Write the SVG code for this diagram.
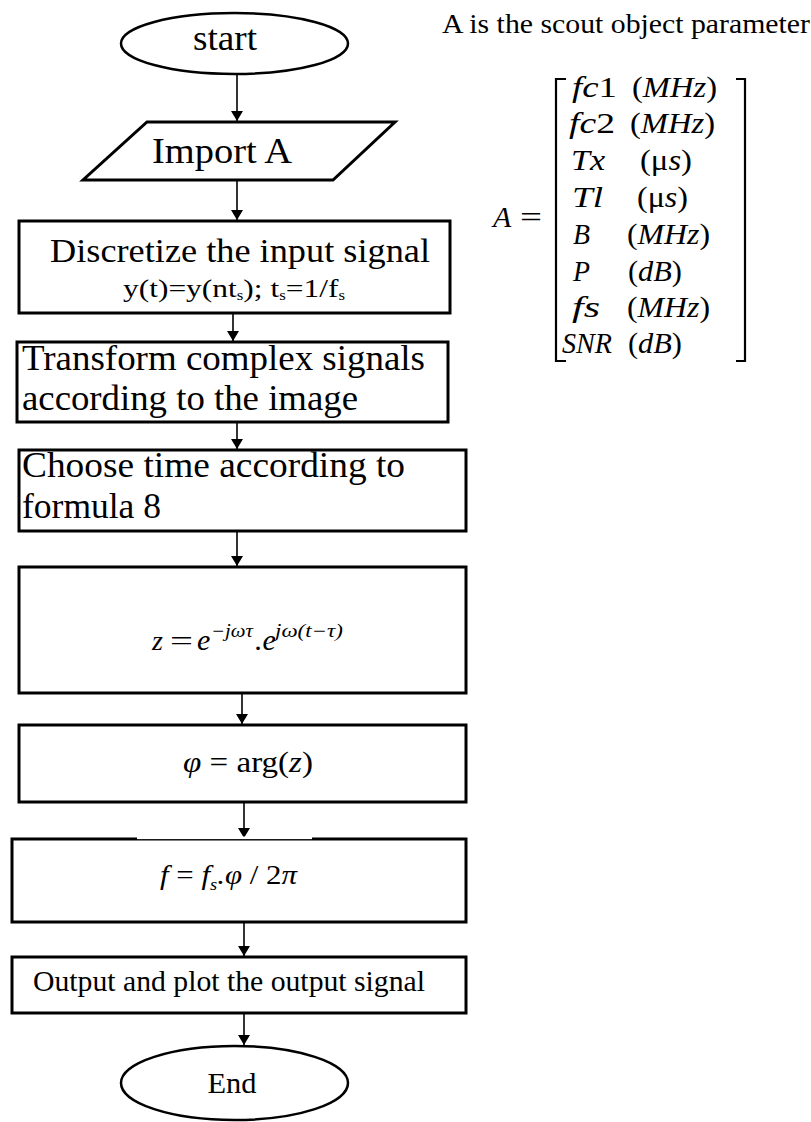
<svg xmlns="http://www.w3.org/2000/svg" width="811" height="1122" viewBox="0 0 811 1122">
<defs>
<marker id="ah" viewBox="0 0 10 12" refX="10" refY="6" markerWidth="10" markerHeight="12" markerUnits="userSpaceOnUse" orient="auto">
<path d="M0,0 L10,6 L0,12 Z" fill="#000"/>
</marker>
<style>
.box{fill:#fff;stroke:#000;stroke-width:3}
.term{fill:#fff;stroke:#000;stroke-width:2.5}
.t{font-family:"Liberation Serif","Times New Roman",serif;fill:#000}
.m{font-family:"Liberation Serif","Times New Roman",serif;font-style:italic;fill:#000}
.up{font-style:normal}
.conn{stroke:#000;stroke-width:1.6;fill:none;marker-end:url(#ah)}
.br{stroke:#000;stroke-width:2.2;fill:none}
</style>
</defs>
<rect width="811" height="1122" fill="#fff"/>

<g id="connectors">
<line class="conn" x1="237" y1="75" x2="237" y2="121"/>
<line class="conn" x1="237" y1="181" x2="237" y2="220"/>
<line class="conn" x1="233" y1="314" x2="233" y2="341"/>
<line class="conn" x1="237" y1="423" x2="237" y2="449"/>
<line class="conn" x1="237" y1="532" x2="237" y2="566"/>
<line class="conn" x1="242" y1="694" x2="242" y2="724"/>
<line class="conn" x1="244" y1="803" x2="244" y2="838"/>
<line class="conn" x1="244" y1="923" x2="244" y2="956"/>
<line class="conn" x1="244" y1="1014" x2="244" y2="1045"/>
</g>

<g id="start">
<ellipse class="term" cx="234.5" cy="43.5" rx="113.5" ry="30.5"/>
<text class="t" x="225" y="50" font-size="36" text-anchor="middle" textLength="64" lengthAdjust="spacingAndGlyphs">start</text>
</g>

<g id="import">
<polygon class="box" points="147,122 395,122 333,180 83,180"/>
<text class="t" x="222" y="163" font-size="36" text-anchor="middle" textLength="140" lengthAdjust="spacingAndGlyphs">Import A</text>
</g>

<g id="discretize">
<rect class="box" x="19" y="221" width="431" height="92"/>
<text class="t" x="240" y="262" font-size="34" text-anchor="middle" textLength="380" lengthAdjust="spacingAndGlyphs">Discretize the input signal</text>
<text class="t" x="123" y="297" font-size="26" textLength="222" lengthAdjust="spacingAndGlyphs">y(t)=y(nt<tspan font-size="14" dy="3">s</tspan><tspan dy="-3">); t</tspan><tspan font-size="14" dy="3">s</tspan><tspan dy="-3">=1/f</tspan><tspan font-size="14" dy="3">s</tspan></text>
</g>

<g id="transform">
<rect class="box" x="17" y="342" width="431" height="80"/>
<text class="t" x="22" y="370" font-size="35" textLength="403" lengthAdjust="spacingAndGlyphs">Transform complex signals</text>
<text class="t" x="22" y="410" font-size="35" textLength="336" lengthAdjust="spacingAndGlyphs">according to the image</text>
</g>

<g id="choose">
<rect class="box" x="19" y="450" width="447" height="81"/>
<text class="t" x="22" y="477" font-size="35" textLength="383" lengthAdjust="spacingAndGlyphs">Choose time according to</text>
<text class="t" x="22" y="518" font-size="35" textLength="139" lengthAdjust="spacingAndGlyphs">formula 8</text>
</g>

<g id="zcalc">
<rect class="box" x="19" y="567" width="447" height="126"/>
<text class="m" x="152" y="650" font-size="28" fill="#444">z</text>
<text class="t" x="170" y="650" font-size="28" fill="#444" textLength="23" lengthAdjust="spacingAndGlyphs">=</text>
<text class="m" x="197" y="650" font-size="30" fill="#444">e</text>
<text class="m" x="211" y="637" font-size="18" fill="#444" textLength="42" lengthAdjust="spacingAndGlyphs">−jωτ</text>
<text class="m" x="255" y="650" font-size="30" fill="#444">.e</text>
<text class="m" x="275" y="637" font-size="18" fill="#444" textLength="68" lengthAdjust="spacingAndGlyphs">jω(t−τ)</text>
</g>

<g id="phase">
<rect class="box" x="19" y="725" width="447" height="77"/>
<text class="t" x="183" y="772" font-size="30" textLength="130" lengthAdjust="spacingAndGlyphs"><tspan font-style="italic">φ</tspan> = arg(<tspan font-style="italic">z</tspan>)</text>
</g>

<g id="freq">
<rect class="box" x="12" y="839" width="454" height="83"/>
<rect x="137" y="836.5" width="175" height="2.6" fill="#fff"/>
<text class="m" x="160" y="884" font-size="27" fill="#333" textLength="137" lengthAdjust="spacingAndGlyphs">f <tspan class="up">=</tspan> f<tspan font-size="16" dy="6">s</tspan><tspan dy="-6">.φ </tspan><tspan class="up">/ 2</tspan>π</text>
</g>

<g id="output">
<rect class="box" x="12" y="957" width="454" height="56"/>
<text class="t" x="33" y="991" font-size="30" textLength="392" lengthAdjust="spacingAndGlyphs">Output and plot the output signal</text>
</g>

<g id="end">
<ellipse class="term" cx="234.5" cy="1083" rx="113.5" ry="37"/>
<text class="t" x="232" y="1093" font-size="29" text-anchor="middle" textLength="49" lengthAdjust="spacingAndGlyphs">End</text>
</g>

<g id="param">
<text class="t" x="442" y="33" font-size="28" textLength="368" lengthAdjust="spacingAndGlyphs">A is the scout object parameter</text>
<text class="m" x="493" y="227" font-size="30">A</text>
<text class="t" x="520" y="227" font-size="30" textLength="22" lengthAdjust="spacingAndGlyphs">=</text>
<path class="br" d="M566,79 L556,79 L556,361 L566,361"/>
<path class="br" d="M736,79 L745,79 L745,361 L736,361"/>
<g font-size="29">
<text class="m" x="572" y="97" textLength="45" lengthAdjust="spacingAndGlyphs">fc<tspan class="up">1</tspan></text>
<text class="m" x="632" y="97" textLength="85" lengthAdjust="spacingAndGlyphs"><tspan class="up">(</tspan>MHz<tspan class="up">)</tspan></text>
<text class="m" x="569" y="133" textLength="46" lengthAdjust="spacingAndGlyphs">fc<tspan class="up">2</tspan></text>
<text class="m" x="630" y="133" textLength="85" lengthAdjust="spacingAndGlyphs"><tspan class="up">(</tspan>MHz<tspan class="up">)</tspan></text>
<text class="m" x="571" y="170" textLength="34" lengthAdjust="spacingAndGlyphs">Tx</text>
<text class="m" x="640" y="170" textLength="52" lengthAdjust="spacingAndGlyphs"><tspan class="up">(μ</tspan>s<tspan class="up">)</tspan></text>
<text class="m" x="572" y="207" textLength="31" lengthAdjust="spacingAndGlyphs">Tl</text>
<text class="m" x="637" y="207" textLength="51" lengthAdjust="spacingAndGlyphs"><tspan class="up">(μ</tspan>s<tspan class="up">)</tspan></text>
<text class="m" x="573" y="244" textLength="17" lengthAdjust="spacingAndGlyphs">B</text>
<text class="m" x="627" y="244" textLength="83" lengthAdjust="spacingAndGlyphs"><tspan class="up">(</tspan>MHz<tspan class="up">)</tspan></text>
<text class="m" x="573" y="281" textLength="17" lengthAdjust="spacingAndGlyphs">P</text>
<text class="m" x="628" y="281" textLength="54" lengthAdjust="spacingAndGlyphs"><tspan class="up">(</tspan>dB<tspan class="up">)</tspan></text>
<text class="m" x="572" y="317" textLength="28" lengthAdjust="spacingAndGlyphs">fs</text>
<text class="m" x="627" y="317" textLength="83" lengthAdjust="spacingAndGlyphs"><tspan class="up">(</tspan>MHz<tspan class="up">)</tspan></text>
<text class="m" x="562" y="353" font-size="30" textLength="50" lengthAdjust="spacingAndGlyphs">SNR</text>
<text class="m" x="628" y="353" textLength="54" lengthAdjust="spacingAndGlyphs"><tspan class="up">(</tspan>dB<tspan class="up">)</tspan></text>
</g>
</g>
</svg>
